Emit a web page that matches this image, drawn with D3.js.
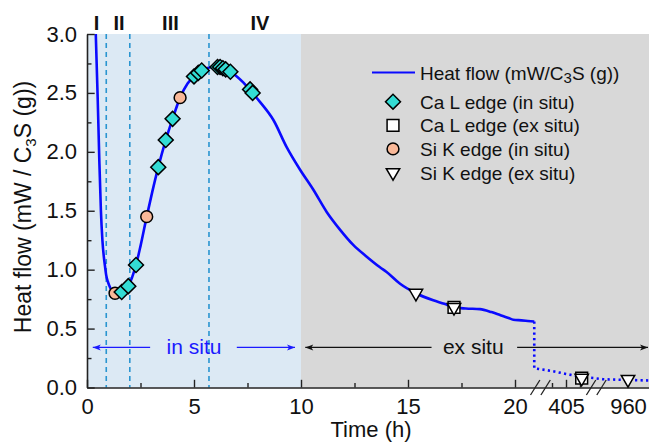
<!DOCTYPE html>
<html>
<head>
<meta charset="utf-8">
<script src="https://cdn.jsdelivr.net/npm/d3@7"></script>
<style>
  html, body { margin: 0; padding: 0; background: #fff; }
  svg { display: block; }
  text { font-family: Arial, "Liberation Sans", sans-serif; fill: #111; }
</style>
</head>
<body>
<svg id="chart" width="649" height="444"></svg>
<script>
// ---------- DATA ----------
const heatT = [0.41, 0.5, 0.58, 0.65, 0.72, 0.84, 0.9, 0.97, 1.1, 1.2, 1.31, 1.45, 1.62, 1.8, 1.93, 2.1, 2.29, 2.5, 2.79, 3.05, 3.33, 3.68, 4.0, 4.35, 4.7, 5.0, 5.2, 5.36, 5.6, 5.9, 6.2, 6.45, 6.7, 7.0, 7.3, 7.68, 8.1, 8.71, 9.33, 9.95, 10.57, 11.2, 11.82, 12.44, 13.07, 13.69, 14.0, 14.63, 15.37, 16.18, 16.7, 17.15, 17.7, 18.36, 18.9, 19.3, 19.7, 19.92, 20.3, 20.6, 20.9];
const heatV = [3.0, 2.45, 1.9, 1.5, 1.25, 1.03, 0.95, 0.9, 0.84, 0.81, 0.80, 0.795, 0.81, 0.83, 0.86, 0.93, 1.04, 1.2, 1.45, 1.66, 1.87, 2.10, 2.28, 2.46, 2.58, 2.64, 2.67, 2.69, 2.71, 2.72, 2.72, 2.70, 2.68, 2.64, 2.59, 2.51, 2.42, 2.27, 2.04, 1.85, 1.68, 1.49, 1.34, 1.21, 1.11, 1.02, 0.98, 0.88, 0.80, 0.74, 0.71, 0.68, 0.67, 0.665, 0.64, 0.615, 0.59, 0.575, 0.57, 0.565, 0.56];

const dottedT = [20.9, 20.9, 402.5, 405, 407.5, 410, 955.5, 960, 965];
const dottedV = [0.56, 0.163, 0.14, 0.115, 0.092, 0.08, 0.07, 0.064, 0.058];

const caLInSituT = [1.62, 1.93, 2.29, 3.33, 3.68, 4.0, 5.0, 5.2, 5.36, 6.1, 6.22, 6.35, 6.48, 6.7, 7.62, 7.74];
const caLInSituV = [0.81, 0.86, 1.04, 1.87, 2.10, 2.28, 2.64, 2.67, 2.69, 2.72, 2.72, 2.71, 2.70, 2.68, 2.53, 2.50];
const siKInSituT = [1.31, 2.79, 4.35];
const siKInSituV = [0.80, 1.45, 2.46];
const caLExSituT = [17.15, 407.8];
const caLExSituV = [0.68, 0.08];
const siKExSituT = [15.37, 17.15, 407.8, 960];
const siKExSituV = [0.80, 0.68, 0.08, 0.07];

const phaseDividers = [0.9, 2.0, 5.7];
const phaseLabels = ["I", "II", "III", "IV"];
const phaseLabelT = [0.45, 1.5, 3.9, 8.08];

const xMajorTicks = [0, 5, 10, 15, 20, 405, 960];
const xMinorTicks = [2.5, 7.5, 12.5, 17.5, 402.5, 407.5];
const yMajorTicks = [0, 0.5, 1.0, 1.5, 2.0, 2.5, 3.0];
const yMinorTicks = [0.25, 0.75, 1.25, 1.75, 2.25, 2.75];

const inSituEnd = 10;
const legendLabels = ["Ca L edge (in situ)", "Ca L edge (ex situ)", "Si K edge (in situ)", "Si K edge (ex situ)"];

// ---------- LAYOUT ----------
const svg = d3.select("#chart");
const W = 649, H = 444;
const x = d3.scaleLinear().domain([0, 21, 400, 410, 955, 965]).range([87, 536.4, 538, 594, 600, 656]);
const y = d3.scaleLinear().domain([0, 3]).range([387.5, 34]);

const blue = "#0a0aff";
const cyan = "#33dcd4";
const peach = "#f9b898";

// backgrounds
svg.append("rect").attr("x", x(0)).attr("y", y(3)).attr("width", x(inSituEnd) - x(0)).attr("height", y(0) - y(3)).attr("fill", "#dce9f4");
svg.append("rect").attr("x", x(inSituEnd)).attr("y", y(3)).attr("width", W - x(inSituEnd)).attr("height", y(0) - y(3)).attr("fill", "#d8d8d8");

// phase dividers
svg.selectAll(".div").data(phaseDividers).join("line")
  .attr("x1", d => x(d)).attr("x2", d => x(d)).attr("y1", y(3)).attr("y2", y(0))
  .attr("stroke", "#2a95d0").attr("stroke-width", 1.6).attr("stroke-dasharray", "5,4");

// phase labels
svg.selectAll(".phase").data(phaseLabels).join("text")
  .attr("x", (d, i) => x(phaseLabelT[i])).attr("y", 30)
  .attr("text-anchor", "middle").attr("font-size", 20).attr("font-weight", "bold")
  .text(d => d);

// curves
svg.append("clipPath").attr("id", "clip").append("rect")
  .attr("x", 0).attr("y", y(3)).attr("width", W).attr("height", y(0) - y(3) + 2);
const line = d3.line().x(d => x(d[0])).y(d => y(d[1]));
const smooth = d3.line().x(d => x(d[0])).y(d => y(d[1])).curve(d3.curveMonotoneX);
svg.append("path").datum(heatT.map((t, i) => [t, heatV[i]]))
  .attr("d", smooth).attr("fill", "none").attr("stroke", blue).attr("stroke-width", 2.6)
  .attr("stroke-linejoin", "round").attr("clip-path", "url(#clip)");
svg.append("path").datum(dottedT.map((t, i) => [t, dottedV[i]]))
  .attr("d", line).attr("fill", "none").attr("stroke", blue).attr("stroke-width", 2.6)
  .attr("stroke-dasharray", "2.2,3.3");

// annotations: in situ / ex situ arrows
function arrow(x1, x2, yy, color) {
  svg.append("line").attr("x1", x1).attr("x2", x2).attr("y1", yy).attr("y2", yy)
    .attr("stroke", color).attr("stroke-width", 1.2);
  const dir = x2 > x1 ? 1 : -1;
  svg.append("path")
    .attr("d", `M${x2},${yy} L${x2 - dir * 8},${yy - 3} L${x2 - dir * 6},${yy} L${x2 - dir * 8},${yy + 3} Z`)
    .attr("fill", color);
}
const arrowY = y(0.34);
arrow(x(2.95), x(0.27), arrowY, "#1a1aff");
arrow(x(7.0), x(9.72), arrowY, "#1a1aff");
svg.append("text").attr("x", x(5.0)).attr("y", arrowY + 7).attr("text-anchor", "middle")
  .attr("font-size", 21).style("fill", "#1a1aff").text("in situ");
arrow(x(16.1), x(10.2), arrowY, "#111");
arrow(x(20.1), 648, arrowY, "#111");
svg.append("text").attr("x", x(18.05)).attr("y", arrowY + 7).attr("text-anchor", "middle")
  .attr("font-size", 21).text("ex situ");

// axes
svg.append("g").attr("transform", `translate(${x(0)},0)`)
  .call(d3.axisLeft(y).tickValues(yMajorTicks).tickFormat(d3.format(".1f")).tickSize(-7.7).tickSizeOuter(0).tickPadding(10));
svg.append("g").attr("transform", `translate(${x(0)},0)`)
  .call(d3.axisLeft(y).tickValues(yMinorTicks).tickFormat("").tickSize(-4.5).tickSizeOuter(0))
  .select(".domain").remove();
svg.append("g").attr("transform", `translate(0,${y(0)})`)
  .call(d3.axisBottom(x).tickValues(xMajorTicks).tickFormat(d3.format("d")).tickSize(-7.7).tickSizeOuter(0).tickPadding(11));
svg.append("g").attr("transform", `translate(0,${y(0)})`)
  .call(d3.axisBottom(x).tickValues(xMinorTicks).tickFormat("").tickSize(-4.5).tickSizeOuter(0))
  .select(".domain").remove();
svg.selectAll(".domain").attr("stroke", "#222").attr("stroke-width", 1.6);
svg.selectAll(".tick line").attr("stroke", "#222").attr("stroke-width", 1.4);
svg.selectAll(".tick text").attr("font-size", 22).attr("font-family", "Arial, 'Liberation Sans', sans-serif").style("fill", "#111");

// axis breaks
const breakCenters = [x(21) + 4, x(410) + 2.3];
breakCenters.forEach(c => {
  [-5.2, 5.2].forEach(o => {
    svg.append("line").attr("x1", c + o - 4.7).attr("y1", y(0) + 7.5).attr("x2", c + o + 4.7).attr("y2", y(0) - 7.5)
      .attr("stroke", "#222").attr("stroke-width", 1.3);
  });
});

// axis titles
svg.append("text").attr("x", (87 + 649) / 2 + 3).attr("y", 437).attr("text-anchor", "middle")
  .attr("font-size", 22).text("Time (h)");
const yl = svg.append("text").attr("transform", "translate(31,207) rotate(-90)")
  .attr("text-anchor", "middle").attr("font-size", 23);
yl.append("tspan").text("Heat flow (mW / C");
yl.append("tspan").attr("font-size", 15).attr("dy", 5).text("3");
yl.append("tspan").attr("dy", -5).text("S (g))");

// markers
const diamond = d3.symbol().type(d3.symbolSquare).size(112);
const square = d3.symbol().type(d3.symbolSquare).size(140);
const circle = d3.symbol().type(d3.symbolCircle).size(110);
const tri = d3.symbol().type(d3.symbolTriangle).size(78);

function drawMarkers(ts, vs, sym, fill, rot) {
  svg.append("g").selectAll("path").data(ts.map((t, i) => [t, vs[i]])).join("path")
    .attr("d", sym).attr("transform", d => `translate(${x(d[0])},${y(d[1])}) rotate(${rot})`)
    .attr("fill", fill).attr("stroke", "#000").attr("stroke-width", 1.5);
}
drawMarkers(siKInSituT, siKInSituV, circle, peach, 0);
drawMarkers(caLInSituT, caLInSituV, diamond, cyan, 45);
drawMarkers(caLExSituT, caLExSituV, square, "#fff", 0);
drawMarkers(siKExSituT, siKExSituV, tri, "#fff", 180);

// legend
const lg = svg.append("g");
lg.append("line").attr("x1", 372).attr("x2", 415).attr("y1", 72.5).attr("y2", 72.5).attr("stroke", blue).attr("stroke-width", 2);
const ht = lg.append("text").attr("x", 420).attr("y", 79.5).attr("font-size", 19);
ht.append("tspan").text("Heat flow (mW/C");
ht.append("tspan").attr("font-size", 15).attr("dy", 3).text("3");
ht.append("tspan").attr("dy", -3).text("S (g))");
const legendSyms = [[diamond, cyan, 45], [square, "#fff", 0], [circle, peach, 0], [tri, "#fff", 180]];
legendLabels.forEach((lab, i) => {
  const yy = 101.7 + i * 23.6;
  lg.append("path").attr("d", legendSyms[i][0]).attr("transform", `translate(393,${yy}) rotate(${legendSyms[i][2]})`)
    .attr("fill", legendSyms[i][1]).attr("stroke", "#000").attr("stroke-width", 1.5);
  lg.append("text").attr("x", 420).attr("y", yy + 7).attr("font-size", 19).text(lab);
});
</script>
</body>
</html>
